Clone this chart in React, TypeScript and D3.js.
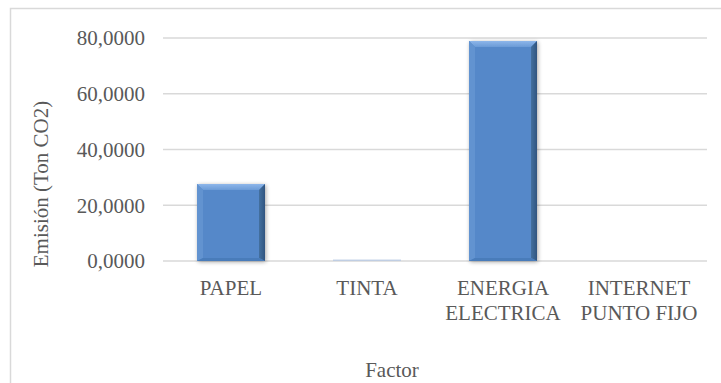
import React from "react";
import * as d3 from "d3";

const categories: string[][] = [["PAPEL"], ["TINTA"], ["ENERGIA", "ELECTRICA"], ["INTERNET", "PUNTO FIJO"]];
const values: number[] = [27.6, 0.25, 78.9, 0];
const yTicks: number[] = [0, 20, 40, 60, 80];
const yTitle = "Emisión (Ton CO2)";
const xTitle = "Factor";

const W = 721, H = 383;
const plot = { left: 163, right: 707, top: 38, bottom: 261 };
const font = "Liberation Serif, DejaVu Serif, serif";
const textColor = "#595959";

export default function App() {
  const x = d3.scaleBand<number>().domain(categories.map((_, i) => i)).range([plot.left, plot.right]).paddingInner(0.5).paddingOuter(0.25);
  const y = d3.scaleLinear().domain([0, 80]).range([plot.bottom, plot.top]);
  const fmt = (v: number) => d3.format(".4f")(v).replace(".", ",");
  const bw = x.bandwidth();
  const ts: React.CSSProperties = { fontFamily: font, fontSize: "21px" };
  return (
    <svg width={W} height={H} style={{ position: "absolute", left: 0, top: 0, background: "#fff" }}>
      <defs>
        <linearGradient id="topG" x1="0" y1="0" x2="0" y2="1">
          <stop offset="0" stopColor="#8db6ea" />
          <stop offset="1" stopColor="#6a9ad6" />
        </linearGradient>
        <linearGradient id="rightG" x1="0" y1="0" x2="1" y2="0">
          <stop offset="0" stopColor="#44709f" />
          <stop offset="1" stopColor="#2f5580" />
        </linearGradient>
        <filter id="sh" x="-20%" y="-20%" width="140%" height="140%">
          <feGaussianBlur in="SourceAlpha" stdDeviation="2" />
          <feOffset dx="1" dy="1" result="b" />
          <feComponentTransfer><feFuncA type="linear" slope="0.35" /></feComponentTransfer>
          <feMerge><feMergeNode /><feMergeNode in="SourceGraphic" /></feMerge>
        </filter>
      </defs>
      <rect x={10.5} y={8.5} width={W} height={H} fill="#fff" stroke="#d9d9d9" strokeWidth={1.5} />
      {yTicks.map((t) => (
        <g key={t}>
          <line x1={plot.left} x2={plot.right} y1={y(t)} y2={y(t)} stroke="#d9d9d9" strokeWidth={1.3} />
          <text x={145} y={y(t)} dy="0.35em" textAnchor="end" style={ts} fill={textColor}>{fmt(t)}</text>
        </g>
      ))}
      {values.map((v, i) => {
        const x0 = x(i)!;
        const y0 = y(v);
        const h = plot.bottom - y0;
        const b = Math.min(6, h / 2, bw / 2);
        const bs = Math.min(3, h / 2);
        const x1 = x0 + bw;
        const yb = plot.bottom;
        if (v <= 0) return null;
        if (h < 1.5) {
          return <rect key={i} x={x0} y={yb - 1.5} width={bw} height={1.5} fill="#b8c9e4" opacity={0.8} />;
        }
        return (
          <g key={i} filter="url(#sh)">
            <rect x={x0} y={y0} width={bw} height={h} fill="#5588c9" />
            <polygon points={`${x0},${y0} ${x1},${y0} ${x1 - b},${y0 + b} ${x0 + b},${y0 + b}`} fill="url(#topG)" />
            <polygon points={`${x0},${y0} ${x0 + b},${y0 + b} ${x0 + b},${yb - bs} ${x0},${yb}`} fill="#6293d0" />
            <polygon points={`${x1},${y0} ${x1},${yb} ${x1 - b},${yb - bs} ${x1 - b},${y0 + b}`} fill="url(#rightG)" />
            <polygon points={`${x0},${yb} ${x1},${yb} ${x1 - b},${yb - bs} ${x0 + b},${yb - bs}`} fill="#4a7cba" />
          </g>
        );
      })}
      {categories.map((lines, i) => (
        <text key={i} x={x(i)! + bw / 2} y={288} textAnchor="middle" style={ts} fill={textColor}>
          {lines.map((l, j) => (
            <tspan key={j} x={x(i)! + bw / 2} dy={j === 0 ? "0.35em" : 25}>{l}</tspan>
          ))}
        </text>
      ))}
      <text transform={`translate(41,184) rotate(-90)`} dy="0.35em" textAnchor="middle" style={ts} fill={textColor}>{yTitle}</text>
      <text x={392} y={370} dy="0.35em" textAnchor="middle" style={ts} fill={textColor}>{xTitle}</text>
    </svg>
  );
}
